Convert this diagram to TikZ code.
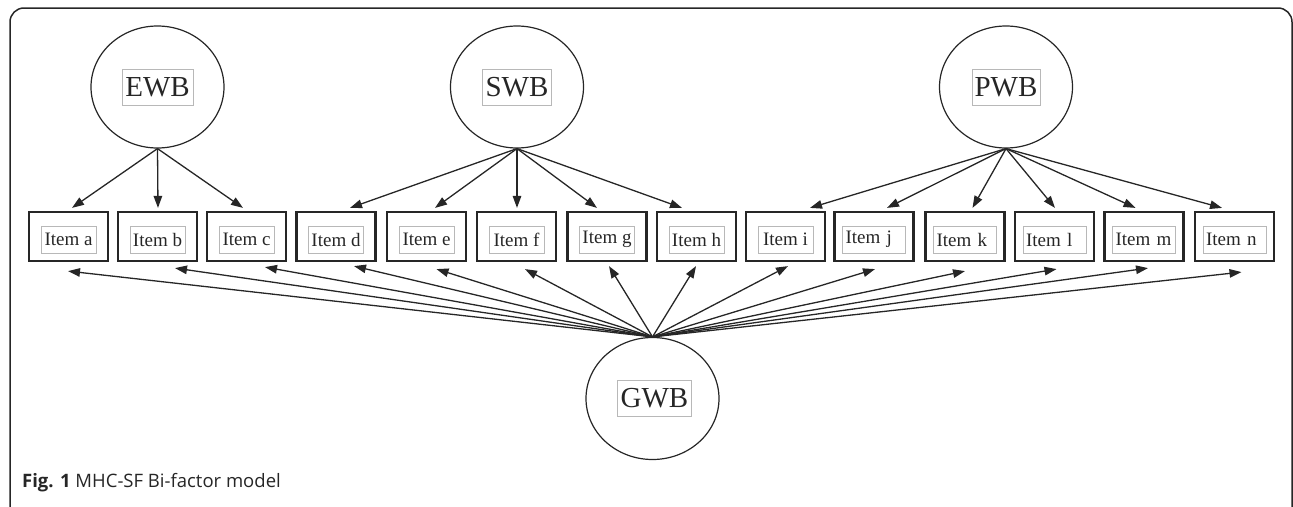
\documentclass[tikz,border=0pt]{standalone}
\usepackage{fontspec}
\setmainfont{Liberation Serif}
\newfontfamily\capfont{Open Sans}
\usetikzlibrary{shapes.geometric,arrows.meta}
\definecolor{ink}{HTML}{262626}
\definecolor{lightbox}{HTML}{B8B8B8}
\begin{document}
\begin{tikzpicture}[x=1pt,y=-1pt,
  latent/.style={ellipse, draw=ink, line width=1.2pt, minimum width=133pt, minimum height=122pt, inner sep=0pt},
  latlab/.style={draw=lightbox, line width=0.8pt, minimum width=71pt, minimum height=36pt, inner sep=0pt, text=ink, font=\fontsize{29}{30}\selectfont},
  itembox/.style={draw=ink, line width=2.2pt, minimum width=79pt, minimum height=49pt, inner sep=0pt},
  itemlab/.style={draw=lightbox, line width=0.8pt, minimum width=55pt, minimum height=27pt, inner sep=0pt, text=ink, font=\fontsize{19}{20}\selectfont},
  itemlabw/.style={itemlab, minimum width=63pt, text width=57pt, align=left},
  arr/.style={draw=ink, line width=1.3pt, -{Triangle[length=12pt,width=8.5pt]}},
  frame/.style={draw=ink, line width=1.5pt, rounded corners=14pt},
  caption/.style={anchor=base west, inner sep=0pt, text=ink, font=\capfont\fontsize{18.5}{20}\selectfont}]
\useasboundingbox (0,0) rectangle (1293,506);
\clip (0,0) rectangle (1293,506);
\draw[frame] (10,8) rectangle (1292,522);

% latent factors
\node[latent] (EWB) at (157.5,87) {};
\node[latlab] (EWB-lab) at (EWB.center) {EWB};
\node[latent] (SWB) at (517,87) {};
\node[latlab, minimum width=69pt] (SWB-lab) at (SWB.center) {SWB};
\node[latent] (PWB) at (1006,87) {};
\node[latlab, minimum width=68pt] (PWB-lab) at (PWB.center) {PWB};
\node[latent] (GWB) at (652.5,398.5) {};
\node[latlab, minimum width=74pt] (GWB-lab) at ([xshift=2pt]GWB.center) {GWB};

% items
\foreach \n/\x in {a/68.5,b/157.5,c/246.5,d/336,e/426.5,f/516.5,g/607,h/696.5,i/785.5,j/874,k/965,l/1054.5,m/1144,n/1234.5}{
  \node[itembox] (\n) at (\x,236.5) {};
}
\foreach \n in {a,b,c,d,e,f,g,h,i}{
  \node[itemlab] (\n-lab) at ([yshift=-3pt]\n.center) {Item \n};
}
\foreach \n in {j,k,l,m,n}{
  \node[itemlabw] (\n-lab) at ([yshift=-3pt]\n.center) {Item \n};
}

% specific factor loadings
\foreach \n/\dx in {a/3.5,b/0.5,c/-3.5}{
  \draw[arr] (EWB.south) -- ([xshift=\dx pt, yshift=3pt]\n.north);
}
\foreach \n/\dx in {d/14,e/8.5,f/0.5,g/-10,h/-14.5}{
  \draw[arr] (SWB.south) -- ([xshift=\dx pt, yshift=3pt]\n.north);
}
\foreach \n/\dx in {i/24.5,j/13,k/7.5,l/0.5,m/-8.5,n/-12.5}{
  \draw[arr] (PWB.south) -- ([xshift=\dx pt, yshift=3pt]\n.north);
}

% general factor loadings
\foreach \n/\dx/\dy in {a/-0.5/9,b/17.5/6,c/18.5/5,d/18/4,e/10/7,f/8.5/7,g/2/4,h/-0.5/4,i/2.5/4,j/1/7,k/0/9,l/2/7,m/4/6,n/7/10}{
  \draw[arr] (GWB.north) -- ([xshift=\dx pt, yshift=-\dy pt]\n.south);
}

\node[caption] (cap) at (22,487) {\textbf{Fig. 1} MHC-SF Bi-factor model};
\end{tikzpicture}
\end{document}
